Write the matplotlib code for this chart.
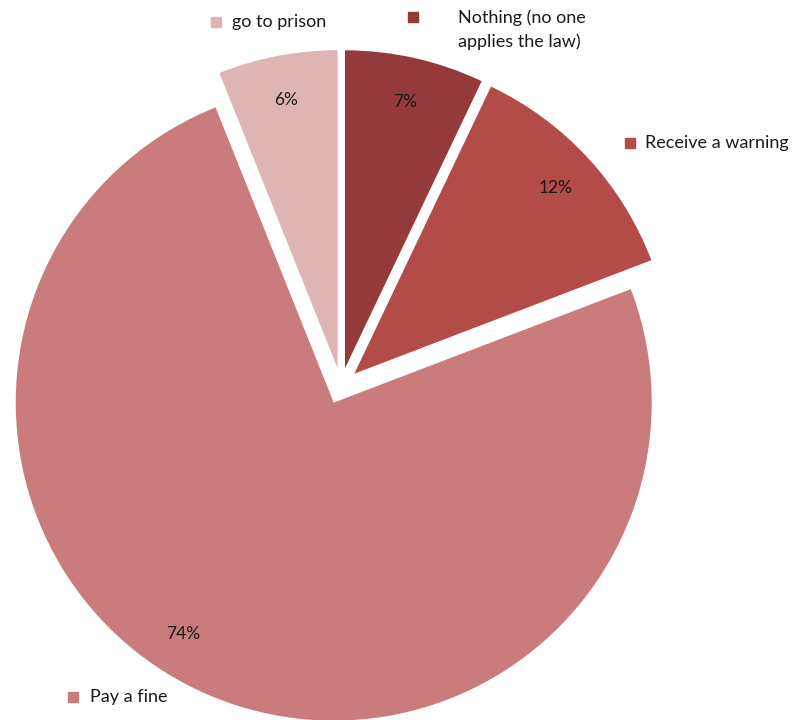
import matplotlib
matplotlib.use("Agg")
import matplotlib.pyplot as plt
import numpy as np

categories = ["Nothing (no one\napplies the law)", "Receive a warning", "Pay a fine", "go to prison"]
shares = [7, 12, 74, 6]
colors = ["#953A3A", "#B34B49", "#C97C7B", "#DEB5B4"]

plt.rcParams["font.family"] = ["Lato", "DejaVu Sans"]

W, H = 792, 720
cx, cy = 341, 386      # pie centre in pixels (from top-left)
rad_px = 318.0         # pie radius in pixels

fig = plt.figure(figsize=(W / 100, H / 100), dpi=100)
ax = fig.add_axes([0, 0, 1, 1])

wedges, texts, autotexts = ax.pie(
    shares,
    colors=colors,
    startangle=90,
    counterclock=False,
    explode=[0.057] * len(shares),
    autopct="%d%%",
    pctdistance=0.86,
    radius=1.0,
    wedgeprops=dict(linewidth=0),
    textprops=dict(fontsize=12.5, color="#1a1a1a"),
    frame=True,
)
ax.set_xlim(-cx / rad_px, (W - cx) / rad_px)
ax.set_ylim(-(H - cy) / rad_px, cy / rad_px)
ax.set_aspect("auto")
ax.axis("off")


def px(x, y):
    return ((x - cx) / rad_px, (cy - y) / rad_px)


# Move the large slice's percentage to sit lower-left
autotexts[2].set_position(px(183, 634))

# Category labels with a colored key square
label_pos = [(413, 17, 458, 17), (630, 143, 645, 143), (73, 697, 90, 697), (216, 22, 232, 22)]
for cat, col, (sx, sy, tx, ty) in zip(categories, colors, label_pos):
    ax.plot(*px(sx, sy), marker="s", markersize=7, color=col, linestyle="none")
    if "\n" in cat:
        ax.text(*px(tx, ty - 8), cat, fontsize=13, color="#1a1a1a",
                ha="left", va="top", linespacing=1.6)
    else:
        ax.text(*px(tx, ty), cat, fontsize=13, color="#1a1a1a",
                ha="left", va="center")

fig.savefig("out.png", dpi=100)
